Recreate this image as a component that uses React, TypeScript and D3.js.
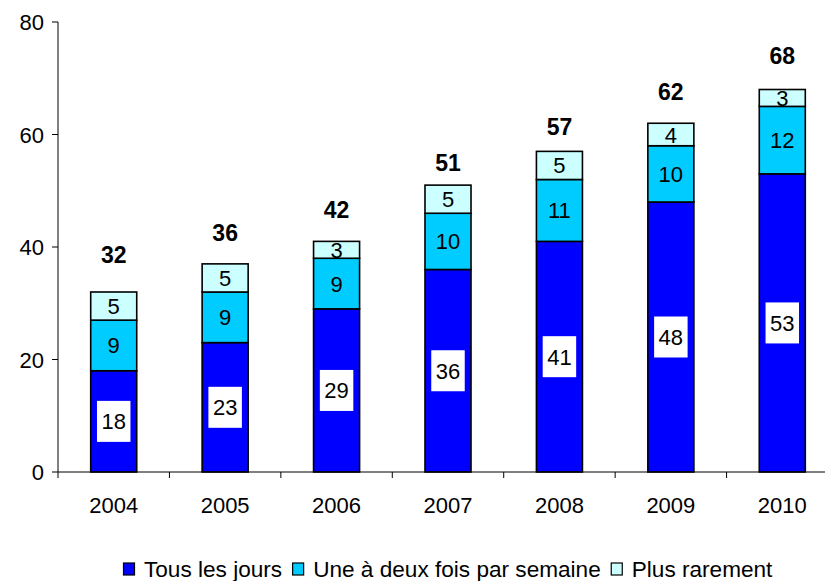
import React, { useEffect, useRef } from "react";
import * as d3 from "d3";

const years = ["2004", "2005", "2006", "2007", "2008", "2009", "2010"];
const seriesNames = ["Tous les jours", "Une à deux fois par semaine", "Plus rarement"];
const tousLesJours = [18, 23, 29, 36, 41, 48, 53];
const uneADeux = [9, 9, 9, 10, 11, 10, 12];
const plusRarement = [5, 5, 3, 5, 5, 4, 3];
const totals = [32, 36, 42, 51, 57, 62, 68];
// vertical level (in axis units) where the total labels sit
const totalLabelLevels = [38.6, 42.5, 46.7, 55.1, 61.5, 67.7, 74.0];
const yTicks = [0, 20, 40, 60, 80];

const colors = ["#0000FF", "#00CCFF", "#CCFFFF"];
const FONT = "'Liberation Sans', Arial, sans-serif";

export default function App() {
  const ref = useRef<SVGSVGElement>(null);

  useEffect(() => {
    const svg = d3.select(ref.current);
    svg.selectAll("*").remove();

    const x = d3.scaleBand<string>().domain(years).range([58, 838]).paddingInner(0.587).paddingOuter(0.2935);
    const y = d3.scaleLinear().domain([0, 80]).range([472, 22]);

    const table = years.map((yr, i) => ({
      year: yr,
      s0: tousLesJours[i],
      s1: uneADeux[i],
      s2: plusRarement[i],
    }));
    const stack = d3.stack<any>().keys(["s0", "s1", "s2"]);
    const layers = stack(table);

    // bars
    layers.forEach((layer, li) => {
      svg.append("g")
        .selectAll("rect")
        .data(layer)
        .join("rect")
        .attr("x", (d: any) => x(d.data.year)!)
        .attr("width", x.bandwidth())
        .attr("y", (d) => y(d[1]))
        .attr("height", (d) => y(d[0]) - y(d[1]))
        .attr("fill", colors[li])
        .attr("stroke", "#000")
        .attr("stroke-width", 1.6);
    });

    // segment labels
    layers.forEach((layer, li) => {
      const g = svg.append("g");
      layer.forEach((d: any) => {
        const cx = x(d.data.year)! + x.bandwidth() / 2;
        const cy = (y(d[0]) + y(d[1])) / 2;
        const val = d[1] - d[0];
        const t = g.append("text")
          .attr("x", cx)
          .attr("y", cy + 8)
          .attr("text-anchor", "middle")
          .attr("font-family", FONT)
          .attr("font-size", 22)
          .attr("fill", "#000")
          .text(String(val));
        if (li === 0) {
          const bb = (t.node() as SVGTextElement).getBBox();
          g.insert("rect", () => t.node())
            .attr("x", cx - bb.width / 2 - 4.5)
            .attr("y", cy - 20.5)
            .attr("width", bb.width + 9)
            .attr("height", 41)
            .attr("fill", "#fff");
        }
      });
    });

    // totals
    svg.append("g")
      .selectAll("text")
      .data(totals)
      .join("text")
      .attr("x", (_d, i) => x(years[i])! + x.bandwidth() / 2)
      .attr("y", (_d, i) => y(totalLabelLevels[i]) + 8.5)
      .attr("text-anchor", "middle")
      .attr("font-family", FONT)
      .attr("font-weight", "bold")
      .attr("font-size", 23)
      .text((d) => String(d));

    // y axis
    const ya = svg.append("g");
    ya.append("line").attr("x1", 58).attr("x2", 58).attr("y1", y(80)).attr("y2", y(0)).attr("stroke", "#000").attr("stroke-width", 1);
    yTicks.forEach((t) => {
      ya.append("line").attr("x1", 52).attr("x2", 58).attr("y1", y(t)).attr("y2", y(t)).attr("stroke", "#000");
      ya.append("text")
        .attr("x", 44)
        .attr("y", y(t) + 8)
        .attr("text-anchor", "end")
        .attr("font-family", FONT)
        .attr("font-size", 22)
        .text(String(t));
    });

    // x axis
    const xa = svg.append("g");
    xa.append("line").attr("x1", 58).attr("x2", 838).attr("y1", y(0)).attr("y2", y(0)).attr("stroke", "#000");
    const step = x.step();
    years.forEach((yr, i) => {
      const bx = 58 + i * step;
      xa.append("line").attr("x1", bx).attr("x2", bx).attr("y1", y(0)).attr("y2", y(0) + 6).attr("stroke", "#000");
      xa.append("text")
        .attr("x", x(yr)! + x.bandwidth() / 2)
        .attr("y", 513)
        .attr("text-anchor", "middle")
        .attr("font-family", FONT)
        .attr("font-size", 22)
        .text(yr);
    });

    // legend
    const lg = svg.append("g").attr("transform", "translate(123,0)");
    let cur = 0;
    seriesNames.forEach((name, i) => {
      const item = lg.append("g").attr("transform", `translate(${cur},0)`);
      item.append("rect").attr("x", 0.5).attr("y", 563).attr("width", 11).attr("height", 12)
        .attr("fill", colors[i]).attr("stroke", "#000").attr("stroke-width", 1.2);
      const t = item.append("text")
        .attr("x", 21)
        .attr("y", 577)
        .attr("font-family", FONT)
        .attr("font-size", 22.6)
        .text(name);
      const w = (t.node() as SVGTextElement).getBBox().width;
      cur += 21 + w + 10;
    });
  }, []);

  return (
    <svg
      ref={ref}
      width={825}
      height={581}
      style={{ position: "absolute", left: 0, top: 0, background: "#fff" }}
    />
  );
}
